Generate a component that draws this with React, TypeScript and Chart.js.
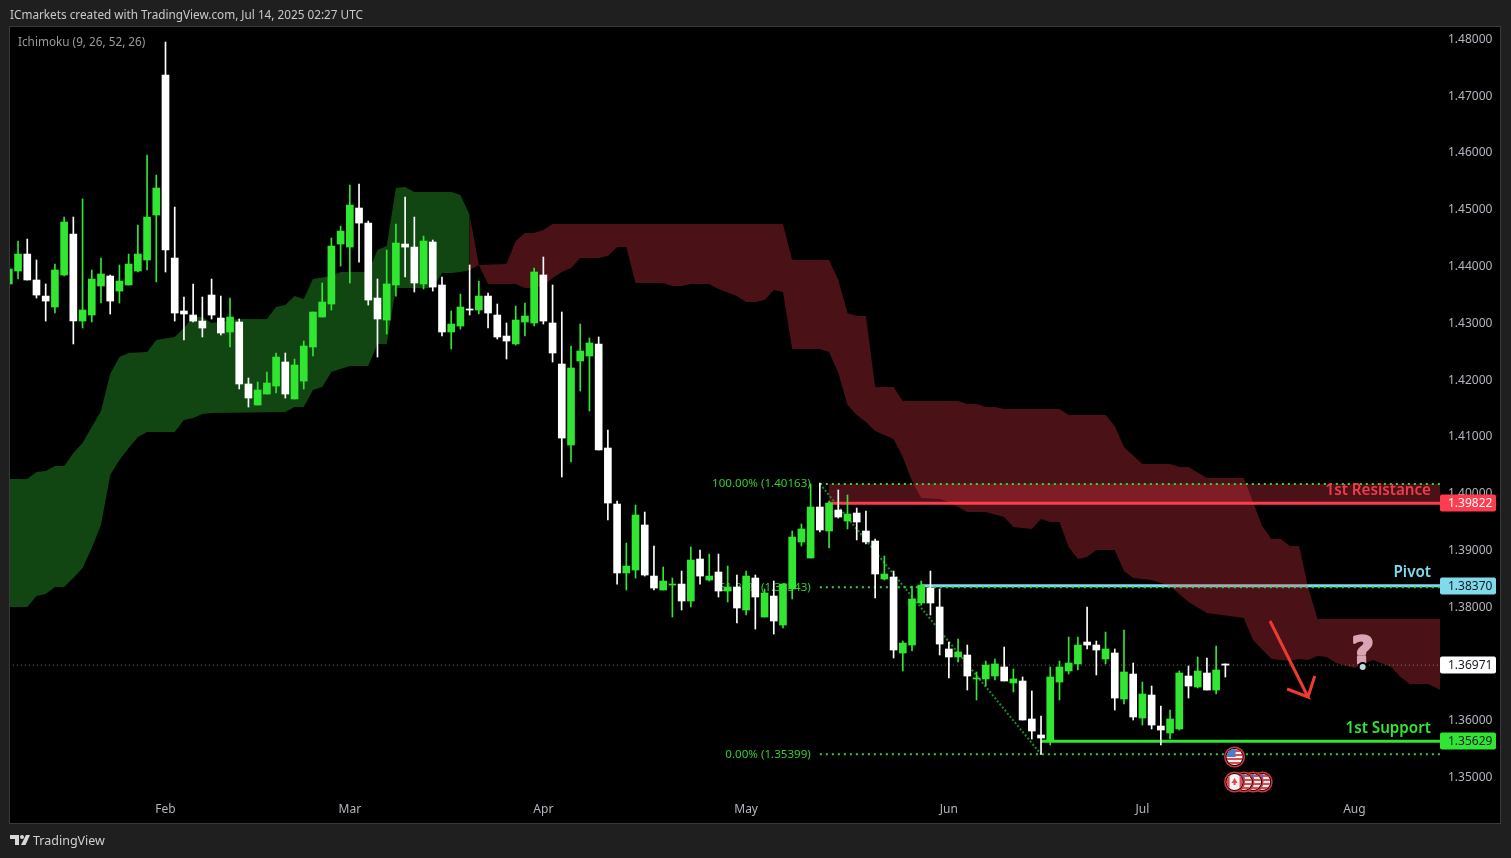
import React, { useEffect, useRef } from "react";
import { Chart, registerables } from "chart.js";

Chart.register(...registerables);

const firstIndex = -17;
const opens = [1.43685,1.43913,1.44212,1.43755,1.43472,1.43279,1.43843,1.44565,1.43032,1.43138,1.43649,1.43825,1.43560,1.43667,1.43913,1.44107,1.44899,
1.47366,1.44142,1.43209,1.43138,1.43032,1.43490,1.43085,1.42839,1.43015,1.41923,1.41553,1.41746,1.41887,1.42310,1.41659,1.41975,1.42575,1.43103,1.43332,1.44388,1.44335,1.45023,1.44758,1.43437,1.43050,1.43667,1.44388,1.44335,1.43685,1.44424,1.43667,1.42839,1.42944,1.43244,1.43226,1.43472,1.43138,1.42768,1.42628,1.43015,1.42997,1.43843,1.42997,1.42275,1.40848,1.42328,1.42416,1.42628,1.40795,1.39808,1.38594,1.38646,1.39439,1.38540,1.38294,1.38382,1.38399,1.38100,1.38840,1.38470,1.38611,1.38276,1.38347,1.37942,1.38505,1.37818,1.38188,1.37677,1.38312,1.39140,1.38858,1.39756,1.39333,1.39703,1.39509,1.39650,1.39333,1.39157,1.38488,1.38523,1.37184,1.37325,1.38065,1.38329,1.37995,1.37255,1.37114,1.37149,1.36727,1.36727,1.36779,1.36938,1.36656,1.36691,1.36022,1.35740,1.35652,1.36673,1.36867,1.36991,1.37378,1.37325,1.37079,1.37184,1.36374,1.36814,1.36039,1.36444,1.35898,1.35775,1.35846,1.36779,1.36585,1.36832,1.36532,1.36991];
const highs = [1.43948,1.44441,1.44476,1.44107,1.43685,1.44036,1.44864,1.44864,1.45182,1.43931,1.44142,1.43843,1.44019,1.44212,1.44723,1.45956,1.45604,
1.47947,1.45040,1.43455,1.43685,1.43455,1.43772,1.43472,1.43437,1.43068,1.42028,1.41958,1.42134,1.42469,1.42469,1.42363,1.42680,1.43191,1.43702,1.44494,1.44705,1.45428,1.45446,1.44793,1.43772,1.44283,1.44740,1.45217,1.44864,1.44529,1.44459,1.43808,1.43209,1.43507,1.44019,1.43737,1.43525,1.43332,1.42997,1.43296,1.43349,1.43966,1.44160,1.43667,1.43191,1.42592,1.42979,1.42733,1.42751,1.41112,1.39861,1.39122,1.39791,1.39668,1.39069,1.38699,1.38505,1.38628,1.39052,1.38999,1.38928,1.38928,1.38716,1.38558,1.38628,1.38558,1.38312,1.38452,1.38399,1.39333,1.39457,1.40162,1.40179,1.39861,1.40056,1.39968,1.39738,1.39685,1.39192,1.38893,1.38628,1.37395,1.38364,1.38452,1.38628,1.38312,1.37378,1.37431,1.37325,1.36850,1.37043,1.37079,1.37290,1.36903,1.36762,1.36515,1.36075,1.36938,1.37043,1.37466,1.37466,1.37995,1.37395,1.37554,1.37255,1.37589,1.37008,1.36673,1.36603,1.36251,1.36180,1.36867,1.36955,1.37114,1.37096,1.37308,1.36991];
const lows = [1.43685,1.43772,1.43755,1.43437,1.43032,1.43173,1.43825,1.42628,1.42909,1.43015,1.43349,1.43156,1.43349,1.43667,1.43896,1.43931,1.43720,
1.43896,1.43032,1.42698,1.43015,1.42751,1.43068,1.42786,1.42575,1.41835,1.41518,1.41553,1.41746,1.41764,1.41676,1.41659,1.41835,1.42416,1.43103,1.43226,1.44001,1.43702,1.44071,1.43314,1.42398,1.42803,1.43472,1.43808,1.43543,1.43596,1.43560,1.42768,1.42540,1.42891,1.43138,1.43156,1.42909,1.42715,1.42363,1.42610,1.42768,1.42944,1.42979,1.42310,1.40285,1.40549,1.41799,1.41447,1.40760,1.39527,1.38399,1.38294,1.38505,1.38540,1.38294,1.38294,1.37818,1.37942,1.37995,1.38399,1.38452,1.38171,1.38083,1.37713,1.37854,1.37607,1.37818,1.37519,1.37624,1.38136,1.39069,1.38858,1.39316,1.39034,1.39562,1.39369,1.39175,1.39104,1.38153,1.38470,1.37096,1.36867,1.37219,1.38030,1.37854,1.37149,1.36744,1.37026,1.36532,1.36356,1.36603,1.36709,1.36691,1.36497,1.36004,1.35669,1.35399,1.35564,1.36356,1.36814,1.36885,1.37255,1.36797,1.36991,1.36180,1.36286,1.36004,1.35916,1.35846,1.35564,1.35669,1.35828,1.36391,1.36568,1.36532,1.36462,1.36762];
const closes = [1.43948,1.44212,1.43755,1.43490,1.43384,1.43931,1.44776,1.43032,1.43226,1.43772,1.43861,1.43384,1.43737,1.44036,1.44212,1.44864,1.45375,
1.44283,1.43173,1.43156,1.43032,1.42909,1.43138,1.42821,1.43103,1.41923,1.41676,1.41817,1.41940,1.42398,1.41746,1.42257,1.42592,1.43191,1.43367,1.44353,1.44617,1.45076,1.44758,1.43402,1.43068,1.43685,1.44406,1.44335,1.43702,1.44441,1.43631,1.42839,1.42979,1.43279,1.43226,1.43472,1.43173,1.42751,1.42680,1.43050,1.43120,1.43896,1.43032,1.42469,1.40971,1.42205,1.42504,1.42645,1.40760,1.39826,1.38594,1.38716,1.39615,1.38558,1.38329,1.38452,1.38399,1.38100,1.38822,1.38540,1.38540,1.38276,1.38347,1.37977,1.38540,1.38171,1.38241,1.37748,1.38399,1.39228,1.39369,1.39756,1.39351,1.39826,1.39580,1.39633,1.39492,1.39140,1.38576,1.38576,1.37237,1.37360,1.38136,1.38382,1.38065,1.37342,1.37114,1.37202,1.36779,1.36744,1.36973,1.36991,1.36691,1.36727,1.36004,1.35810,1.35687,1.36762,1.36938,1.37008,1.37325,1.37325,1.37237,1.37255,1.36391,1.36850,1.36057,1.36462,1.35916,1.35828,1.36022,1.36832,1.36603,1.36867,1.36532,1.36885,1.36971];
const dojiGreen = [55, 88];

const cloudGreenTop: [number, number][] = [[-17,1.40250],[-15,1.40250],[-14,1.40373],[-13,1.40390],[-12,1.40478],[-11,1.40478],[-10,1.40707],[-9,1.40883],[-8,1.41166],[-7,1.41447],[-6,1.42099],[-5,1.42398],[-4,1.42469],[-2,1.42487],[-1,1.42698],[1,1.42751],[2,1.42909],[3,1.43103],[4,1.43103],[5,1.42997],[6,1.43015],[8,1.43068],[11,1.43068],[12,1.43279],[13,1.43314],[14,1.43472],[15,1.43419],[16,1.43772],[18,1.43825],[19,1.43896],[22,1.43896],[23,1.44283],[24,1.44353],[25,1.45375],[26,1.45393],[27,1.45305],[31,1.45305],[32,1.45252],[33,1.44899]];
const cloudGreenBottom: [number, number][] = [[-17,1.37995],[-15,1.37995],[-14,1.38188],[-13,1.38224],[-12,1.38347],[-11,1.38347],[-10,1.38505],[-9,1.38681],[-8,1.39034],[-7,1.39439],[-6,1.40320],[-5,1.40584],[-4,1.40795],[-3,1.40988],[-2,1.41077],[1,1.41077],[2,1.41289],[3,1.41324],[4,1.41394],[5,1.41412],[13,1.41430],[14,1.41518],[15,1.41518],[16,1.41817],[17,1.41870],[18,1.42134],[20,1.42240],[22,1.42240],[23,1.42628],[24,1.42628],[25,1.43614],[29,1.43614],[30,1.43878],[31,1.43878],[32,1.43896],[33,1.43931]];
const cloudRedTop: [number, number][] = [[33,1.44899],[34,1.44019],[37,1.44036],[38,1.44441],[39,1.44582],[40,1.44582],[41,1.44635],[42,1.44740],[67,1.44740],[68,1.44107],[72,1.44107],[73,1.43755],[74,1.43173],[75,1.43120],[76,1.43120],[77,1.41870],[79,1.41870],[80,1.41623],[86,1.41623],[87,1.41570],[88,1.41570],[89,1.41518],[90,1.41518],[91,1.41482],[97,1.41482],[98,1.41376],[102,1.41376],[103,1.41183],[104,1.40813],[106,1.40514],[109,1.40514],[110,1.40461],[111,1.40461],[113,1.40267],[117,1.40267],[118,1.39844],[119,1.39421],[120,1.39192],[121,1.39192],[122,1.39069],[123,1.39069],[124,1.38329],[125,1.37783],[139,1.37783]];
const cloudRedBottom: [number, number][] = [[33,1.43931],[34,1.44019],[35,1.43685],[38,1.43685],[39,1.43614],[40,1.43614],[41,1.43649],[42,1.43790],[43,1.43896],[44,1.43966],[45,1.44142],[47,1.44142],[48,1.44177],[49,1.44335],[50,1.44335],[51,1.43702],[54,1.43702],[55,1.43649],[56,1.43649],[57,1.43685],[59,1.43685],[60,1.43596],[62,1.43472],[63,1.43367],[64,1.43367],[65,1.43402],[66,1.43578],[67,1.43543],[68,1.42540],[71,1.42540],[72,1.42487],[73,1.42116],[74,1.41553],[75,1.41376],[76,1.41254],[77,1.41094],[79,1.40953],[80,1.40637],[81,1.40214],[82,1.39914],[84,1.39897],[85,1.39844],[86,1.39756],[87,1.39668],[89,1.39668],[91,1.39580],[92,1.39404],[94,1.39369],[95,1.39544],[96,1.39492],[97,1.39492],[98,1.39052],[99,1.38840],[100,1.38875],[101,1.38999],[103,1.38999],[104,1.38628],[105,1.38505],[107,1.38470],[109,1.38364],[111,1.38083],[113,1.37889],[117,1.37801],[118,1.37413],[120,1.37079],[122,1.37043],[123,1.37079],[124,1.37061],[125,1.37131],[126,1.37114],[127,1.37008],[129,1.36920],[131,1.37061],[133,1.36938],[134,1.36762],[135,1.36638],[137,1.36638],[139,1.36480]];

const yTickValues = [1.35,1.36,1.37,1.38,1.39,1.40,1.41,1.42,1.43,1.44,1.45,1.46,1.47,1.48];
const monthTickIndex = [0,20,41,63,85,106,129];
const monthLabels = ["Feb","Mar","Apr","May","Jun","Jul","Aug"];

const resistance = 1.39822;
const pivot = 1.3837;
const support = 1.35629;
const lastPrice = 1.36971;
const fibHigh = 1.40163;
const fibMid = 1.38343;
const fibLow = 1.35399;
const fibLabels = ["100.00% (1.40163)","61.80% (1.38343)","0.00% (1.35399)"];
const fibPrices = [fibHigh, fibMid, fibLow];
const fibStart = 71;
const fibTrendEnd = 95;
const resistanceStart = 72;
const pivotStart = 82;
const supportStart = 95;
const axisEnd = 139;
const arrowPath: [number, number][] = [[119.85,1.37748],[123.97,1.36409],[121.7,1.36550],[123.97,1.36409],[124.7,1.36779]];
const questionMark: [number, number] = [129.9, 1.36971];
const usEventTop: [number, number] = [116, 1.35352];
const lowerEvents: [number, number, string][] = [[119,1.34912,"US"],[118,1.34912,"US"],[117,1.34912,"US"],[116,1.34912,"CA"]];

const HEADER = "ICmarkets created with TradingView.com, Jul 14, 2025 02:27 UTC";
const INDICATOR = "Ichimoku (9, 26, 52, 26)";
const FONT = '"Noto Sans", sans-serif';
const GREEN = "#31e631";
const RED_CLOUD = "rgba(255,60,75,0.29)";
const GREEN_CLOUD = "rgb(17,70,19)";
const AXIS_TEXT = "#b2b5be";

const X_MIN = -16.873;
const X_MAX = 138.29;
const Y_MIN = 1.34683;
const Y_MAX = 1.48194;

const pts = (a: [number, number][]) => a.map(([x, y]) => ({ x, y }));
const hLine = (from: number, y: number) => [{ x: from, y }, { x: axisEnd, y }];

function drawFlag(ctx: CanvasRenderingContext2D, cx: number, cy: number, kind: string) {
  ctx.save();
  ctx.beginPath();
  ctx.arc(cx, cy, 10.5, 0, Math.PI * 2);
  ctx.fillStyle = "#d6333c";
  ctx.fill();
  ctx.beginPath();
  ctx.arc(cx, cy, 9, 0, Math.PI * 2);
  ctx.fillStyle = "#000";
  ctx.fill();
  ctx.beginPath();
  ctx.arc(cx, cy, 8, 0, Math.PI * 2);
  ctx.clip();
  ctx.fillStyle = "#f3f3f3";
  ctx.fillRect(cx - 9, cy - 9, 18, 18);
  if (kind === "US") {
    ctx.fillStyle = "#e0484f";
    for (let k = -7; k < 9; k += 4) ctx.fillRect(cx - 9, cy + k, 18, 2);
    ctx.fillStyle = "#4a7cc9";
    ctx.fillRect(cx - 9, cy - 9, 10, 9);
  } else {
    ctx.fillStyle = "#e0484f";
    ctx.fillRect(cx - 9, cy - 9, 4, 18);
    ctx.fillRect(cx + 5, cy - 9, 4, 18);
    ctx.beginPath();
    ctx.moveTo(cx, cy - 4);
    ctx.lineTo(cx + 3, cy + 1);
    ctx.lineTo(cx + 1, cy + 1);
    ctx.lineTo(cx + 1, cy + 3);
    ctx.lineTo(cx - 1, cy + 3);
    ctx.lineTo(cx - 1, cy + 1);
    ctx.lineTo(cx - 3, cy + 1);
    ctx.closePath();
    ctx.fill();
  }
  ctx.restore();
}

function drawTag(ctx: CanvasRenderingContext2D, left: number, y: number, text: string, bg: string, fg: string) {
  ctx.fillStyle = bg;
  ctx.beginPath();
  ctx.roundRect(left, Math.round(y) - 8.5, 56, 17, 2);
  ctx.fill();
  ctx.fillStyle = fg;
  ctx.font = `12px ${FONT}`;
  ctx.textAlign = "left";
  ctx.textBaseline = "middle";
  ctx.fillText(text, left + 8, Math.round(y) + 0.5);
}

const decorations = {
  id: "decorations",
  beforeDraw(chart: any) {
    const { ctx, width, height } = chart;
    ctx.save();
    ctx.fillStyle = "#1f1f1f";
    ctx.fillRect(0, 0, width, height);
    ctx.fillStyle = "#000";
    ctx.fillRect(10, 27, 1490, 796);
    ctx.strokeStyle = "#3a3a3a";
    ctx.lineWidth = 1;
    ctx.strokeRect(9.5, 26.5, 1491, 797);
    ctx.restore();
  },
  beforeDatasetsDraw(chart: any) {
    const { ctx, scales } = chart;
    ctx.save();
    ctx.fillStyle = "#34cc34";
    ctx.font = `11.6px ${FONT}`;
    ctx.textAlign = "right";
    ctx.textBaseline = "middle";
    fibLabels.forEach((label, i) => {
      ctx.fillText(label, scales.x.getPixelForValue(fibStart) - 9, scales.y.getPixelForValue(fibPrices[i]));
    });
    ctx.restore();
  },
  afterDatasetsDraw(chart: any) {
    const { ctx, scales, chartArea } = chart;
    const px = (v: number) => scales.x.getPixelForValue(v);
    const py = (v: number) => scales.y.getPixelForValue(v);
    ctx.save();
    ctx.textAlign = "right";
    ctx.textBaseline = "middle";
    ctx.font = `600 15.2px ${FONT}`;
    const rightEdge = chartArea.right - 9;
    ctx.fillStyle = "#f23a4b";
    ctx.fillText("1st Resistance", rightEdge, py(resistance) - 13);
    ctx.fillStyle = "#7fdbea";
    ctx.fillText("Pivot", rightEdge, py(pivot) - 13);
    ctx.fillStyle = GREEN;
    ctx.fillText("1st Support", rightEdge, py(support) - 13);

    ctx.textAlign = "center";
    ctx.textBaseline = "alphabetic";
    ctx.font = `bold 38px "DejaVu Sans", sans-serif`;
    ctx.fillStyle = "#d9a5b3";
    ctx.strokeStyle = "#d9a5b3";
    ctx.lineWidth = 2.5;
    ctx.lineJoin = "round";
    ctx.strokeText("?", px(questionMark[0]), py(questionMark[1]) - 2);
    ctx.fillText("?", px(questionMark[0]), py(questionMark[1]) - 2);
    ctx.fillStyle = "#000";
    ctx.beginPath();
    ctx.arc(px(questionMark[0]), py(questionMark[1]) + 2, 5, 0, Math.PI * 2);
    ctx.fill();
    ctx.fillStyle = "#c5d8e0";
    ctx.beginPath();
    ctx.arc(px(questionMark[0]), py(questionMark[1]) + 2, 3, 0, Math.PI * 2);
    ctx.fill();

    drawFlag(ctx, px(usEventTop[0]), py(usEventTop[1]), "US");
    lowerEvents.forEach(([i, p, kind]) => drawFlag(ctx, px(i), py(p), kind));
    ctx.restore();
  },
  afterDraw(chart: any) {
    const { ctx, scales, chartArea } = chart;
    const py = (v: number) => scales.y.getPixelForValue(v);
    ctx.save();
    const left = chartArea.right;
    drawTag(ctx, left, py(resistance), resistance.toFixed(5), "#ff3b4e", "#ffffff");
    drawTag(ctx, left, py(pivot), pivot.toFixed(5), "#7fdbea", "#131722");
    drawTag(ctx, left, py(lastPrice), lastPrice.toFixed(5), "#ffffff", "#131722");
    drawTag(ctx, left, py(support), support.toFixed(5), GREEN, "#131722");

    ctx.textAlign = "left";
    ctx.textBaseline = "middle";
    ctx.fillStyle = "#c9c9c9";
    ctx.font = `11.75px ${FONT}`;
    ctx.fillText(HEADER, 10, 16);
    ctx.fillStyle = "#9a9a9a";
    ctx.fillText(INDICATOR, 18, 43);
    ctx.fillStyle = "#d0d0d0";
    ctx.font = `12.5px ${FONT}`;
    ctx.fillText("TradingView", 33, 841);

    ctx.fillStyle = "#d8d8d8";
    ctx.beginPath();
    ctx.moveTo(10, 835);
    ctx.lineTo(19, 835);
    ctx.lineTo(19, 845);
    ctx.lineTo(15, 845);
    ctx.lineTo(15, 839);
    ctx.lineTo(10, 839);
    ctx.closePath();
    ctx.fill();
    ctx.beginPath();
    ctx.arc(22, 837, 2, 0, Math.PI * 2);
    ctx.fill();
    ctx.beginPath();
    ctx.moveTo(26, 835);
    ctx.lineTo(30, 835);
    ctx.lineTo(25.5, 845);
    ctx.lineTo(21, 845);
    ctx.closePath();
    ctx.fill();
    ctx.restore();
  },
};

const lineBase = { type: "line" as const, pointRadius: 0, tension: 0, fill: false };

export default function App() {
  const ref = useRef<HTMLCanvasElement | null>(null);
  useEffect(() => {
    if (!ref.current) return;
    const idx = opens.map((_, i) => i + firstIndex);
    const colors = opens.map((o, i) => {
      const up = closes[i] > o || dojiGreen.includes(idx[i]);
      return up ? GREEN : "#ffffff";
    });
    const chart = new Chart(ref.current, {
      type: "bar",
      plugins: [decorations],
      data: {
        datasets: [
          {
            type: "bar",
            label: "Bodies",
            order: 0,
            grouped: false,
            barThickness: 7,
            minBarLength: 1,
            backgroundColor: colors,
            data: idx.map((x, i) => ({ x, y: [opens[i], closes[i]] })),
          },
          {
            type: "bar",
            label: "Wicks",
            order: 1,
            grouped: false,
            barThickness: 1,
            backgroundColor: colors,
            data: idx.map((x, i) => ({ x, y: [lows[i], highs[i]] })),
          },
          { ...lineBase, label: "Arrow", order: 0, showLine: true, borderColor: "#f0392f", borderWidth: 3, data: pts(arrowPath) },
          { ...lineBase, label: "Support", order: 2, borderColor: GREEN, borderWidth: 3, data: hLine(supportStart, support) },
          { ...lineBase, label: "Resistance", order: 2, borderColor: "#ff3b4e", borderWidth: 3, data: hLine(resistanceStart, resistance) },
          { ...lineBase, label: "Fib high", order: 2, borderColor: "#3ccf3c", borderWidth: 2, borderDash: [2, 4], data: hLine(fibStart, fibHigh) },
          { ...lineBase, label: "Fib mid", order: 2, borderColor: "#3ccf3c", borderWidth: 2, borderDash: [2, 4], data: hLine(fibStart, fibMid) },
          { ...lineBase, label: "Fib low", order: 2, borderColor: "#3ccf3c", borderWidth: 2, borderDash: [2, 4], data: hLine(fibStart, fibLow) },
          { ...lineBase, label: "Fib trend", order: 3, borderColor: "#1c8a28", borderWidth: 2, borderDash: [2, 2], data: [{ x: fibStart, y: fibHigh }, { x: fibTrendEnd, y: fibLow }] },
          { ...lineBase, label: "Last", order: 3, borderColor: "rgba(170,170,170,0.7)", borderWidth: 1, borderDash: [1, 3], data: hLine(firstIndex, lastPrice) },
          { ...lineBase, label: "Band", order: 4, borderWidth: 0, backgroundColor: RED_CLOUD, fill: { value: resistance }, data: hLine(resistanceStart, fibHigh) },
          { ...lineBase, label: "Red top", order: 5, borderWidth: 0, backgroundColor: RED_CLOUD, fill: "+1", data: pts(cloudRedTop) },
          { ...lineBase, label: "Red bottom", order: 5, borderWidth: 0, data: pts(cloudRedBottom) },
          { ...lineBase, label: "Green top", order: 5, borderWidth: 0, backgroundColor: GREEN_CLOUD, fill: "+1", data: pts(cloudGreenTop) },
          { ...lineBase, label: "Green bottom", order: 5, borderWidth: 0, data: pts(cloudGreenBottom) },
          { ...lineBase, label: "Pivot", order: 6, borderColor: "#7fdbea", borderWidth: 3, data: hLine(pivotStart, pivot) },
        ],
      } as any,
      options: {
        responsive: false,
        animation: false,
        layout: { padding: { left: 10, top: 28, right: 0, bottom: 0 } },
        plugins: { legend: { display: false }, tooltip: { enabled: false }, title: { display: false } },
        scales: {
          x: {
            type: "linear",
            offset: false,
            min: X_MIN,
            max: X_MAX,
            grid: { display: false, drawTicks: false },
            border: { display: false },
            afterBuildTicks: (s: any) => {
              s.ticks = monthTickIndex.map((value) => ({ value }));
            },
            afterFit: (s: any) => {
              s.height = 63;
            },
            ticks: {
              autoSkip: false,
              maxRotation: 0,
              padding: 7,
              color: AXIS_TEXT,
              font: { family: FONT, size: 12 },
              callback: (v: any) => monthLabels[monthTickIndex.indexOf(v)],
            },
          },
          y: {
            type: "linear",
            position: "right",
            min: Y_MIN,
            max: Y_MAX,
            grid: { display: false, drawTicks: false },
            border: { display: false },
            afterBuildTicks: (s: any) => {
              s.ticks = yTickValues.map((value) => ({ value }));
            },
            afterFit: (s: any) => {
              s.width = 71;
            },
            ticks: {
              padding: 8,
              labelOffset: 0.5,
              color: AXIS_TEXT,
              font: { family: FONT, size: 12 },
              callback: (v: any) => Number(v).toFixed(5),
            },
          },
        },
      } as any,
    });
    return () => chart.destroy();
  }, []);
  return (
    <canvas
      ref={ref}
      width={1511}
      height={858}
      style={{ position: "fixed", left: 0, top: 0, width: 1511, height: 858, display: "block" }}
    />
  );
}
